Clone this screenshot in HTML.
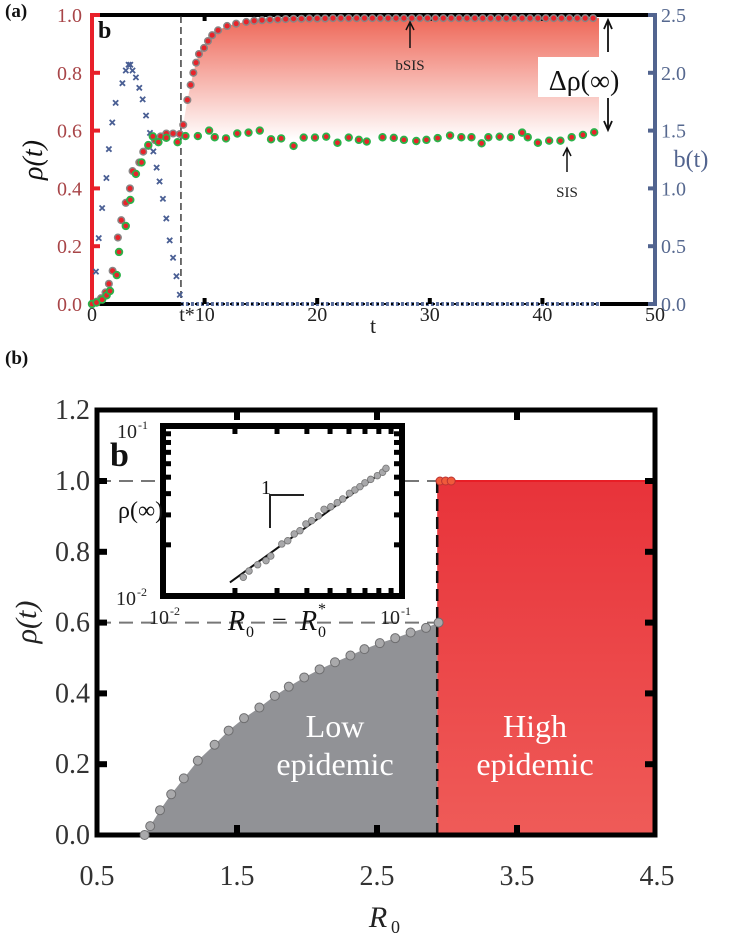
<!DOCTYPE html>
<html><head><meta charset="utf-8"><style>
html,body{margin:0;padding:0;background:#fff;}
svg{display:block;}
svg text{font-family:"Liberation Serif","DejaVu Serif",serif;}
</style></head><body>
<svg id="fig" width="735" height="934" viewBox="0 0 735 934" font-family="Liberation Serif, serif">
<defs>
<linearGradient id="gapGrad" x1="0" y1="15" x2="0" y2="140" gradientUnits="userSpaceOnUse">
<stop offset="0" stop-color="#ee6454"/><stop offset="1" stop-color="#ffffff"/></linearGradient>
<linearGradient id="highGrad" x1="0" y1="0" x2="0" y2="1">
<stop offset="0" stop-color="#e8333a"/><stop offset="1" stop-color="#ef5b58"/></linearGradient>
</defs>
<g id="panelA"></g>
<g id="panelB"></g>
<g id="inset"></g>
</svg>
<script>
// ---------- Panel (a) data ----------
const tB = [0,0.4,0.8,1.2,1.5,1.83,2.3,2.6,3.0,3.37,3.6,4.2,4.55,5.0,5.6,6.1,6.6,7.2,7.8,8.1,8.47,8.76,9.0,9.24,9.5,9.95,10.3,10.67,11.2,12.0,12.8,13.7,14.4,15.1,15.8,16.5,17.2,17.9,18.6,19.3,20.0,20.7,21.4,22.1,22.8,23.5,24.2,24.9,25.6,26.3,27.0,27.7,28.4,29.1,29.8,30.5,31.2,31.9,32.6,33.3,34.0,34.7,35.4,36.1,36.8,37.5,38.2,38.9,39.6,40.3,41.0,41.7,42.4,43.1,43.8,44.5];
const rhoB = [0,0.008,0.02,0.04,0.07,0.115,0.23,0.29,0.35,0.40,0.46,0.49,0.527,0.547,0.567,0.58,0.59,0.59,0.588,0.62,0.706,0.758,0.80,0.835,0.865,0.886,0.91,0.93,0.947,0.962,0.97,0.976,0.98,0.982,0.984,0.985,0.986,0.987,0.987,0.988,0.988,0.988,0.989,0.989,0.989,0.989,0.989,0.989,0.989,0.989,0.989,0.989,0.989,0.989,0.989,0.989,0.989,0.989,0.989,0.989,0.989,0.989,0.989,0.989,0.989,0.989,0.989,0.989,0.989,0.989,0.989,0.989,0.989,0.989,0.989,0.989];
const tS = [0,0.4,0.9,1.3,1.6,2.2,2.4,3.0,3.4,3.9,4.4,5.0,5.4,5.9,6.6,7.6,8.3,9.4,10.4,10.9,11.9,12.9,13.9,14.9,15.9,16.8,17.9,18.8,19.8,20.8,21.8,22.8,23.7,24.4,25.8,26.8,27.7,28.8,29.7,30.7,31.8,32.8,33.7,34.6,35.2,36.2,37.2,38.2,38.7,39.6,40.6,41.6,42.6,43.6,44.6];
const rhoS = [0,0.005,0.015,0.03,0.045,0.10,0.18,0.27,0.36,0.45,0.49,0.55,0.58,0.56,0.575,0.56,0.581,0.581,0.600,0.577,0.573,0.590,0.593,0.600,0.570,0.573,0.547,0.576,0.576,0.579,0.558,0.576,0.568,0.562,0.577,0.575,0.568,0.564,0.568,0.574,0.583,0.577,0.577,0.556,0.577,0.579,0.577,0.593,0.577,0.558,0.565,0.565,0.577,0.585,0.594];
const tb = [0.35,0.6,0.9,1.28,1.5,1.8,2.1,2.7,3.0,3.25,3.4,3.6,3.9,4.2,4.5,4.8,5.15,5.45,5.74,6.0,6.3,6.6,6.9,7.2,7.5,7.8];
const bVals = [0.28,0.57,0.83,1.09,1.34,1.57,1.74,1.91,2.02,2.07,2.07,2.02,1.96,1.87,1.77,1.63,1.48,1.32,1.18,1.06,0.91,0.74,0.55,0.40,0.24,0.08];
const tStar = 7.9;
const aXTicks = [10,20,30,40,50];
const aYTicks = [0,0.2,0.4,0.6,0.8,1.0];
const aYLabels = ["0.0","0.2","0.4","0.6","0.8","1.0"];
const bTicks = [0,0.5,1.0,1.5,2.0,2.5];
const bLabels = ["0.0","0.5","1.0","1.5","2.0","2.5"];

// ---------- Panel (b) data ----------
const R0low = [0.84,0.88,0.95,1.03,1.12,1.22,1.34,1.44,1.55,1.66,1.77,1.87,1.98,2.09,2.20,2.31,2.41,2.52,2.63,2.74,2.85,2.94];
const rhoLow = [0.0,0.025,0.07,0.115,0.16,0.21,0.255,0.295,0.33,0.36,0.393,0.419,0.445,0.468,0.488,0.507,0.525,0.542,0.556,0.572,0.585,0.60];
const R0high = [2.95,2.99,3.03];
const rhoHigh = [1.0,1.0,1.0];
const R0star = 2.93;
const bXTicks = [0.5,1.5,2.5,3.5,4.5];
const bXLabels = ["0.5","1.5","2.5","3.5","4.5"];
const bYTicks = [0,0.2,0.4,0.6,0.8,1.0,1.2];
const bYLabels = ["0.0","0.2","0.4","0.6","0.8","1.0","1.2"];

// ---------- Inset data (log10 values) ----------
const logDelta = [-1.664,-1.640,-1.604,-1.569,-1.549,-1.503,-1.478,-1.451,-1.427,-1.402,-1.378,-1.350,-1.326,-1.298,-1.271,-1.248,-1.220,-1.197,-1.176,-1.155,-1.131,-1.103,-1.081,-1.067];
const logRhoInf = [-1.890,-1.853,-1.816,-1.792,-1.765,-1.694,-1.675,-1.635,-1.616,-1.576,-1.557,-1.529,-1.490,-1.475,-1.451,-1.429,-1.396,-1.376,-1.357,-1.334,-1.314,-1.292,-1.272,-1.249];
const fitX = [-1.72,-1.067];
const fitY = [-1.92,-1.255];

const NS="http://www.w3.org/2000/svg";
function mk(parent,tag,attrs,text){const e=document.createElementNS(NS,tag);for(const k in attrs)e.setAttribute(k,attrs[k]);if(tag==='text')e.setAttribute('font-family','Liberation Serif, DejaVu Serif, serif');if(text!==undefined)e.textContent=text;parent.appendChild(e);return e;}

// ===== Panel A =====
const A=document.getElementById('panelA');
const ax=t=>92+t*11.26, ay=r=>304-r*289, aby=b=>304-b/2.5*289;
let pts=[];
tB.forEach((t,i)=>{if(t>=8)pts.push(ax(t)+','+ay(rhoB[i]));});
pts.push('599,'+ay(0.989));
pts.push('599,'+ay(0.594));
for(let i=tS.length-1;i>=0;i--){if(tS[i]>=8)pts.push(ax(tS[i])+','+ay(rhoS[i]));}
let e=mk(A,'polygon',{points:pts.join(' '),fill:'url(#gapGrad)'});


e=mk(A,'line',{x1:94,y1:15,x2:657,y2:15,stroke:'#000','stroke-width':4});

e=mk(A,'line',{x1:92,y1:304,x2:ax(tStar),y2:304,stroke:'#000','stroke-width':4});

e=mk(A,'line',{x1:ax(tStar),y1:304,x2:600,y2:304,stroke:'#5a6d9c','stroke-width':4,'stroke-dasharray':'3 2'});

mk(A,'line',{x1:ax(tStar),y1:304,x2:600,y2:304,stroke:'#000','stroke-width':2,'stroke-dasharray':'2 5'});
e=mk(A,'line',{x1:600,y1:304,x2:655,y2:304,stroke:'#000','stroke-width':4});

aXTicks.slice(0,4).forEach(t=>{mk(A,'rect',{x:ax(t)-2,y:15,width:4,height:6,fill:'#000'});mk(A,'rect',{x:ax(t)-2,y:298,width:4,height:6,fill:'#000'});});
e=mk(A,'line',{x1:92,y1:13,x2:92,y2:306,stroke:'#e8202a','stroke-width':4});

aYTicks.forEach((v,i)=>{
 mk(A,'line',{x1:92,y1:ay(v),x2:100,y2:ay(v),stroke:'#e8202a','stroke-width':4});
 const l=mk(A,'text',{x:82,y:ay(v)+7,'text-anchor':'end','font-size':20,fill:'#a84548'},aYLabels[i]);
 
});
e=mk(A,'line',{x1:655,y1:13,x2:655,y2:306,stroke:'#52648f','stroke-width':4});

bTicks.forEach((v,i)=>{
 mk(A,'line',{x1:648,y1:aby(v),x2:655,y2:aby(v),stroke:'#52648f','stroke-width':4});
 const l=mk(A,'text',{x:661,y:aby(v)+7,'font-size':20,fill:'#56688f'},bLabels[i]);
 
});
[["0",92],["20",ax(20)],["30",ax(30)],["40",ax(40)],["50",ax(50)]].forEach(([s,x])=>{
 const l=mk(A,'text',{x:x,y:321,'text-anchor':'middle','font-size':20,fill:'#222'},s);
 
});
e=mk(A,'text',{x:197,y:321,'text-anchor':'middle','font-size':20,fill:'#222'},'t*10');

e=mk(A,'text',{x:373,y:333,'text-anchor':'middle','font-size':22,fill:'#222'},'t');

e=mk(A,'line',{x1:ax(tStar),y1:16,x2:ax(tStar),y2:302,stroke:'#222','stroke-width':1.3,'stroke-dasharray':'7 4'});

tb.forEach((t,i)=>{
 const x=ax(t),y=aby(bVals[i]);
 const g=mk(A,'path',{d:`M${x-2.6},${y-2.6}L${x+2.6},${y+2.6}M${x+2.6},${y-2.6}L${x-2.6},${y+2.6}`,stroke:'#4a5f94','stroke-width':1.8});
 
});
tB.forEach((t,i)=>{
 const c=mk(A,'circle',{cx:ax(t),cy:ay(rhoB[i]),r:3.3,fill:'#e8232a',stroke:'#8a8585','stroke-width':1.5});
 
});
tS.forEach((t,i)=>{
 const c=mk(A,'circle',{cx:ax(t),cy:ay(rhoS[i]),r:3.3,fill:'#e8232a',stroke:'#2cb24a','stroke-width':1.8});
 
});
e=mk(A,'text',{x:98,y:38,'font-size':24,'font-weight':'bold',fill:'#111'},'b');

e=mk(A,'text',{x:5,y:17,'font-size':19,'font-weight':'bold',fill:'#111'},'(a)');

mk(A,'path',{d:'M410,48L410,24M406,30L410,22L414,30',stroke:'#111','stroke-width':1.5,fill:'none'});
e=mk(A,'text',{x:410,y:70,'text-anchor':'middle','font-size':15,fill:'#222'},'bSIS');

mk(A,'path',{d:'M567,172L567,150M563,156L567,148L571,156',stroke:'#111','stroke-width':1.5,fill:'none'});
e=mk(A,'text',{x:567,y:197,'text-anchor':'middle','font-size':15,fill:'#222'},'SIS');

mk(A,'rect',{x:538,y:57,width:92,height:40,fill:'#fff'});
e=mk(A,'text',{x:584,y:90,'text-anchor':'middle','font-size':28,fill:'#111'},'Δρ(∞)');

mk(A,'path',{d:'M608,52L608,22M604,29L608,20L612,29',stroke:'#111','stroke-width':1.8,fill:'none'});
mk(A,'path',{d:'M608,98L608,128M604,121L608,130L612,121',stroke:'#111','stroke-width':1.8,fill:'none'});
e=mk(A,'text',{x:0,y:0,'font-size':28,'font-style':'italic',fill:'#111',transform:'translate(42,160) rotate(-90)','text-anchor':'middle'},'ρ(t)');

e=mk(A,'text',{x:691,y:167,'text-anchor':'middle','font-size':24,fill:'#52648f'},'b(t)');


// ===== Panel B =====
const B=document.getElementById('panelB');
const bx=r=>97+(r-0.5)*140, by=v=>835-v*354;
e=mk(B,'rect',{x:bx(R0star),y:by(1.0),width:655-bx(R0star),height:by(0)-by(1.0),fill:'url(#highGrad)'});

mk(B,'line',{x1:bx(R0star),y1:by(1.0),x2:655,y2:by(1.0),stroke:'#e81e26','stroke-width':2});
let lp=R0low.map((r,i)=>bx(r)+','+by(rhoLow[i]));
lp.push(bx(R0star)+','+by(rhoLow[rhoLow.length-1]));
lp.push(bx(R0star)+','+by(0));
e=mk(B,'polygon',{points:lp.join(' '),fill:'#919296'});

e=mk(B,'line',{x1:97,y1:by(1.0),x2:bx(R0star),y2:by(1.0),stroke:'#777','stroke-width':2,'stroke-dasharray':'14 8'});

e=mk(B,'line',{x1:97,y1:by(0.6),x2:bx(R0star),y2:by(0.6),stroke:'#777','stroke-width':2,'stroke-dasharray':'14 8'});

e=mk(B,'line',{x1:bx(R0star),y1:by(1.0),x2:bx(R0star),y2:by(0),stroke:'#111','stroke-width':2.5,'stroke-dasharray':'12 6'});

e=mk(B,'rect',{x:97,y:410,width:558,height:425,fill:'none',stroke:'#000','stroke-width':5});

bXTicks.slice(1,4).forEach(r=>{mk(B,'rect',{x:bx(r)-3,y:412,width:6,height:8,fill:'#000'});mk(B,'rect',{x:bx(r)-3,y:825,width:6,height:8,fill:'#000'});});
bYTicks.slice(1,6).forEach(v=>{mk(B,'rect',{x:99,y:by(v)-3,width:8,height:6,fill:'#000'});mk(B,'rect',{x:645,y:by(v)-3,width:8,height:6,fill:'#000'});});
bXTicks.forEach((r,i)=>{const l=mk(B,'text',{x:bx(r),y:885,'text-anchor':'middle','font-size':28,fill:'#333'},bXLabels[i]);});
bYTicks.forEach((v,i)=>{const l=mk(B,'text',{x:90,y:by(v)+9,'text-anchor':'end','font-size':28,fill:'#333'},bYLabels[i]);});
R0low.forEach((r,i)=>{const c=mk(B,'circle',{cx:bx(r),cy:by(rhoLow[i]),r:4.5,fill:'#a9a9ab',stroke:'#6e6e70','stroke-width':1});});
R0high.forEach((r,i)=>{const c=mk(B,'circle',{cx:bx(r),cy:by(rhoHigh[i]),r:4,fill:'#f05a3a',stroke:'#b33','stroke-width':1});});
e=mk(B,'text',{x:535,y:737,'text-anchor':'middle','font-size':32,fill:'#fff'},'High');

mk(B,'text',{x:535,y:775,'text-anchor':'middle','font-size':32,fill:'#fff'},'epidemic');
e=mk(B,'text',{x:335,y:737,'text-anchor':'middle','font-size':32,fill:'#fff'},'Low');

mk(B,'text',{x:335,y:775,'text-anchor':'middle','font-size':32,fill:'#fff'},'epidemic');
e=mk(B,'text',{x:5,y:364,'font-size':19,'font-weight':'bold',fill:'#111'},'(b)');

e=mk(B,'text',{x:378,y:927,'text-anchor':'middle','font-size':30,'font-style':'italic',fill:'#222'},'R');

mk(B,'text',{x:391,y:933,'font-size':18,fill:'#222'},'0');
e=mk(B,'text',{x:0,y:0,'font-size':30,'font-style':'italic',fill:'#222',transform:'translate(36,622) rotate(-90)','text-anchor':'middle'},'ρ(t)');


// ===== Inset =====
const I=document.getElementById('inset');
const ix=l=>163+(l+2)*239, iy=l=>596-(l+2)*170;
e=mk(I,'rect',{x:163,y:426,width:239,height:170,fill:'#fff',stroke:'#000','stroke-width':6});

[2,3,4,5,6,7,8,9].forEach(m=>{const x=ix(Math.log10(m/100));mk(I,'rect',{x:x-2.5,y:428,width:5,height:6,fill:'#000'});mk(I,'rect',{x:x-2.5,y:588,width:5,height:6,fill:'#000'});
 const y=iy(Math.log10(m/100));mk(I,'rect',{x:165,y:y-2.5,width:6,height:5,fill:'#000'});mk(I,'rect',{x:394,y:y-2.5,width:6,height:5,fill:'#000'});});
e=mk(I,'line',{x1:ix(fitX[0]),y1:iy(fitY[0]),x2:ix(fitX[1]),y2:iy(fitY[1]),stroke:'#111','stroke-width':2});

logDelta.forEach((l,i)=>{const c=mk(I,'circle',{cx:ix(l),cy:iy(logRhoInf[i]),r:3.3,fill:'#a8a8aa',stroke:'#777','stroke-width':0.8});});
mk(I,'path',{d:'M270,528L270,495L304,495',stroke:'#222','stroke-width':2,fill:'none'});
e=mk(I,'text',{x:261,y:494,'font-size':20,fill:'#111'},'1');

e=mk(I,'text',{x:110,y:466,'font-size':34,'font-weight':'bold',fill:'#111'},'b');

function pow10(p,x,y,ex){const t=mk(p,'text',{x:x,y:y,'font-size':20,fill:'#222'},'10');mk(p,'text',{x:x+21,y:y-9,'font-size':12,fill:'#222'},ex);return t;}
e=pow10(I,117,438,'-1');
e=pow10(I,116,605,'-2');
e=pow10(I,149,624,'-2');
e=pow10(I,380,624,'-1');
e=mk(I,'text',{x:118,y:518,'font-size':24,fill:'#111'},'ρ(∞)');

e=mk(I,'text',{x:228,y:630,'font-size':28,'font-style':'italic',fill:'#111'},'R');

mk(I,'text',{x:246,y:637,'font-size':16,fill:'#111'},'0');
mk(I,'text',{x:272,y:628,'font-size':26,fill:'#111'},'−');
mk(I,'text',{x:300,y:630,'font-size':28,'font-style':'italic',fill:'#111'},'R');
mk(I,'text',{x:318,y:637,'font-size':16,fill:'#111'},'0');
mk(I,'text',{x:318,y:614,'font-size':16,fill:'#111'},'*');
</script>
</body></html>
